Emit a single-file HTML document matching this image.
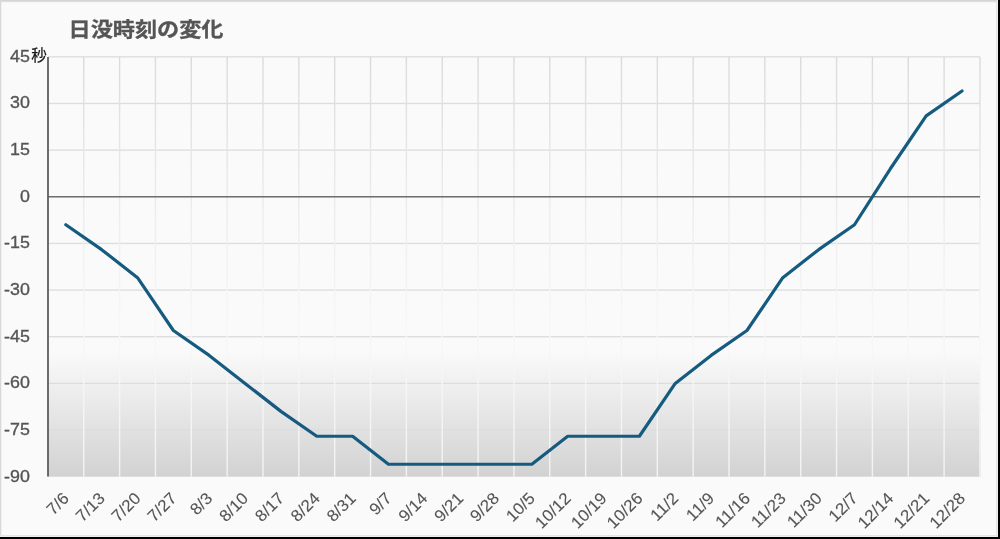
<!DOCTYPE html>
<html lang="ja"><head><meta charset="utf-8"><title>日没時刻の変化</title>
<style>html,body{margin:0;padding:0;background:#fafafa;}body{width:1000px;height:539px;overflow:hidden;position:relative;font-family:"Liberation Sans",sans-serif;}svg{position:absolute;left:0;top:0;display:block;will-change:transform}text{font-family:"Liberation Sans",sans-serif;fill:#555555;stroke:#555555;stroke-width:0.35px}</style></head><body>
<svg width="1000" height="539" viewBox="0 0 1000 539">
<defs>
<linearGradient id="pg" x1="0" y1="56.8" x2="0" y2="476.7" gradientUnits="userSpaceOnUse"><stop offset="0" stop-color="#000" stop-opacity="0"/><stop offset="0.70" stop-color="#000" stop-opacity="0"/><stop offset="1" stop-color="#000" stop-opacity="0.16"/></linearGradient>
<linearGradient id="vg" x1="0" y1="56.8" x2="0" y2="476.7" gradientUnits="userSpaceOnUse"><stop offset="0" stop-color="#dbdbdb"/><stop offset="0.27" stop-color="#e8e8e8"/><stop offset="0.48" stop-color="#f1f1f1"/><stop offset="0.66" stop-color="#f7f7f7"/><stop offset="1" stop-color="#f3f3f3"/></linearGradient>
</defs>
<rect x="0" y="0" width="1000" height="539" fill="#fafafa"/>
<rect x="47.9" y="56.8" width="932.65" height="419.9" fill="url(#pg)"/>
<rect x="47.9" y="56.13" width="932.05" height="1.35" fill="#dddddd"/>
<rect x="47.9" y="102.79" width="932.05" height="1.35" fill="#dddddd"/>
<rect x="47.9" y="149.44" width="932.05" height="1.35" fill="#dddddd"/>
<rect x="47.9" y="242.75" width="932.05" height="1.35" fill="#dddddd"/>
<rect x="47.9" y="289.41" width="932.05" height="1.35" fill="#dddddd"/>
<rect x="47.9" y="336.06" width="932.05" height="1.35" fill="#dddddd"/>
<rect x="47.9" y="382.72" width="932.05" height="1.35" fill="#dddddd"/>
<rect x="47.9" y="429.37" width="932.05" height="1.35" fill="#dddddd"/>
<rect x="83.05" y="56.8" width="1.4" height="419.9" fill="url(#vg)"/>
<rect x="118.9" y="56.8" width="1.4" height="419.9" fill="url(#vg)"/>
<rect x="154.74" y="56.8" width="1.4" height="419.9" fill="url(#vg)"/>
<rect x="190.59" y="56.8" width="1.4" height="419.9" fill="url(#vg)"/>
<rect x="226.44" y="56.8" width="1.4" height="419.9" fill="url(#vg)"/>
<rect x="262.29" y="56.8" width="1.4" height="419.9" fill="url(#vg)"/>
<rect x="298.14" y="56.8" width="1.4" height="419.9" fill="url(#vg)"/>
<rect x="333.98" y="56.8" width="1.4" height="419.9" fill="url(#vg)"/>
<rect x="369.83" y="56.8" width="1.4" height="419.9" fill="url(#vg)"/>
<rect x="405.68" y="56.8" width="1.4" height="419.9" fill="url(#vg)"/>
<rect x="441.53" y="56.8" width="1.4" height="419.9" fill="url(#vg)"/>
<rect x="477.38" y="56.8" width="1.4" height="419.9" fill="url(#vg)"/>
<rect x="513.23" y="56.8" width="1.4" height="419.9" fill="url(#vg)"/>
<rect x="549.07" y="56.8" width="1.4" height="419.9" fill="url(#vg)"/>
<rect x="584.92" y="56.8" width="1.4" height="419.9" fill="url(#vg)"/>
<rect x="620.77" y="56.8" width="1.4" height="419.9" fill="url(#vg)"/>
<rect x="656.62" y="56.8" width="1.4" height="419.9" fill="url(#vg)"/>
<rect x="692.47" y="56.8" width="1.4" height="419.9" fill="url(#vg)"/>
<rect x="728.31" y="56.8" width="1.4" height="419.9" fill="url(#vg)"/>
<rect x="764.16" y="56.8" width="1.4" height="419.9" fill="url(#vg)"/>
<rect x="800.01" y="56.8" width="1.4" height="419.9" fill="url(#vg)"/>
<rect x="835.86" y="56.8" width="1.4" height="419.9" fill="url(#vg)"/>
<rect x="871.71" y="56.8" width="1.4" height="419.9" fill="url(#vg)"/>
<rect x="907.55" y="56.8" width="1.4" height="419.9" fill="url(#vg)"/>
<rect x="943.4" y="56.8" width="1.4" height="419.9" fill="url(#vg)"/>
<rect x="979.25" y="56.8" width="1.4" height="419.9" fill="url(#vg)"/>
<rect x="47.9" y="196.02" width="932.05" height="1.5" fill="#6c6c6c"/>
<rect x="47.12" y="57" width="1.75" height="419.5" fill="#5a5a5a"/>
<polyline points="65.82,224.76 101.67,249.64 137.52,277.64 173.37,330.51 209.22,355.4 245.06,383.39 280.91,411.38 316.76,436.27 352.61,436.27 388.46,464.26 424.3,464.26 460.15,464.26 496,464.26 531.85,464.26 567.7,436.27 603.55,436.27 639.39,436.27 675.24,383.39 711.09,355.4 746.94,330.51 782.79,277.64 818.63,249.64 854.48,224.76 890.33,168.77 926.18,115.9 962.03,91.01" fill="none" stroke="#155b80" stroke-width="3.2" stroke-linecap="round" stroke-linejoin="round"/>
<text transform="translate(29.9 61.8) scale(1.05 1)" font-size="17" text-anchor="end">45</text>
<text transform="translate(29.9 108.46) scale(1.05 1)" font-size="17" text-anchor="end">30</text>
<text transform="translate(29.9 155.11) scale(1.05 1)" font-size="17" text-anchor="end">15</text>
<text transform="translate(29.9 201.77) scale(1.05 1)" font-size="17" text-anchor="end">0</text>
<text transform="translate(29.9 248.42) scale(1.05 1)" font-size="17" text-anchor="end">-15</text>
<text transform="translate(29.9 295.08) scale(1.05 1)" font-size="17" text-anchor="end">-30</text>
<text transform="translate(29.9 341.73) scale(1.05 1)" font-size="17" text-anchor="end">-45</text>
<text transform="translate(29.9 388.39) scale(1.05 1)" font-size="17" text-anchor="end">-60</text>
<text transform="translate(29.9 435.04) scale(1.05 1)" font-size="17" text-anchor="end">-75</text>
<text transform="translate(29.9 481.7) scale(1.05 1)" font-size="17" text-anchor="end">-90</text>
<text transform="translate(65.82 495.2) rotate(-45) scale(1.03 1)" font-size="16.5" text-anchor="end" style="stroke-width:0.1px" y="5.94">7/6</text>
<text transform="translate(101.67 495.2) rotate(-45) scale(1.03 1)" font-size="16.5" text-anchor="end" style="stroke-width:0.1px" y="5.94">7/13</text>
<text transform="translate(137.52 495.2) rotate(-45) scale(1.03 1)" font-size="16.5" text-anchor="end" style="stroke-width:0.1px" y="5.94">7/20</text>
<text transform="translate(173.37 495.2) rotate(-45) scale(1.03 1)" font-size="16.5" text-anchor="end" style="stroke-width:0.1px" y="5.94">7/27</text>
<text transform="translate(209.22 495.2) rotate(-45) scale(1.03 1)" font-size="16.5" text-anchor="end" style="stroke-width:0.1px" y="5.94">8/3</text>
<text transform="translate(245.06 495.2) rotate(-45) scale(1.03 1)" font-size="16.5" text-anchor="end" style="stroke-width:0.1px" y="5.94">8/10</text>
<text transform="translate(280.91 495.2) rotate(-45) scale(1.03 1)" font-size="16.5" text-anchor="end" style="stroke-width:0.1px" y="5.94">8/17</text>
<text transform="translate(316.76 495.2) rotate(-45) scale(1.03 1)" font-size="16.5" text-anchor="end" style="stroke-width:0.1px" y="5.94">8/24</text>
<text transform="translate(352.61 495.2) rotate(-45) scale(1.03 1)" font-size="16.5" text-anchor="end" style="stroke-width:0.1px" y="5.94">8/31</text>
<text transform="translate(388.46 495.2) rotate(-45) scale(1.03 1)" font-size="16.5" text-anchor="end" style="stroke-width:0.1px" y="5.94">9/7</text>
<text transform="translate(424.3 495.2) rotate(-45) scale(1.03 1)" font-size="16.5" text-anchor="end" style="stroke-width:0.1px" y="5.94">9/14</text>
<text transform="translate(460.15 495.2) rotate(-45) scale(1.03 1)" font-size="16.5" text-anchor="end" style="stroke-width:0.1px" y="5.94">9/21</text>
<text transform="translate(496 495.2) rotate(-45) scale(1.03 1)" font-size="16.5" text-anchor="end" style="stroke-width:0.1px" y="5.94">9/28</text>
<text transform="translate(531.85 495.2) rotate(-45) scale(1.03 1)" font-size="16.5" text-anchor="end" style="stroke-width:0.1px" y="5.94">10/5</text>
<text transform="translate(567.7 495.2) rotate(-45) scale(1.03 1)" font-size="16.5" text-anchor="end" style="stroke-width:0.1px" y="5.94">10/12</text>
<text transform="translate(603.55 495.2) rotate(-45) scale(1.03 1)" font-size="16.5" text-anchor="end" style="stroke-width:0.1px" y="5.94">10/19</text>
<text transform="translate(639.39 495.2) rotate(-45) scale(1.03 1)" font-size="16.5" text-anchor="end" style="stroke-width:0.1px" y="5.94">10/26</text>
<text transform="translate(675.24 495.2) rotate(-45) scale(1.03 1)" font-size="16.5" text-anchor="end" style="stroke-width:0.1px" y="5.94">11/2</text>
<text transform="translate(711.09 495.2) rotate(-45) scale(1.03 1)" font-size="16.5" text-anchor="end" style="stroke-width:0.1px" y="5.94">11/9</text>
<text transform="translate(746.94 495.2) rotate(-45) scale(1.03 1)" font-size="16.5" text-anchor="end" style="stroke-width:0.1px" y="5.94">11/16</text>
<text transform="translate(782.79 495.2) rotate(-45) scale(1.03 1)" font-size="16.5" text-anchor="end" style="stroke-width:0.1px" y="5.94">11/23</text>
<text transform="translate(818.63 495.2) rotate(-45) scale(1.03 1)" font-size="16.5" text-anchor="end" style="stroke-width:0.1px" y="5.94">11/30</text>
<text transform="translate(854.48 495.2) rotate(-45) scale(1.03 1)" font-size="16.5" text-anchor="end" style="stroke-width:0.1px" y="5.94">12/7</text>
<text transform="translate(890.33 495.2) rotate(-45) scale(1.03 1)" font-size="16.5" text-anchor="end" style="stroke-width:0.1px" y="5.94">12/14</text>
<text transform="translate(926.18 495.2) rotate(-45) scale(1.03 1)" font-size="16.5" text-anchor="end" style="stroke-width:0.1px" y="5.94">12/21</text>
<text transform="translate(962.03 495.2) rotate(-45) scale(1.03 1)" font-size="16.5" text-anchor="end" style="stroke-width:0.1px" y="5.94">12/28</text>
<text x="68.5" y="37" font-size="20" font-weight="bold" textLength="155" lengthAdjust="spacingAndGlyphs" style='font-family:"Liberation Sans","Noto Sans CJK JP",sans-serif;fill:#555555;stroke:#555555;stroke-width:0.3px'>日没時刻の変化</text>
<text x="31.3" y="61.4" font-size="15.5" style='font-family:"Liberation Sans","Noto Sans CJK JP",sans-serif;fill:#151515;stroke:#151515;stroke-width:0.2px'>秒</text>
<rect x="0" y="0" width="997" height="1" fill="#d5d5d5"/>
<rect x="0" y="1" width="997" height="1" fill="#dedede"/>
<rect x="0" y="2" width="997" height="1" fill="#f5f5f5"/>
<rect x="0" y="0" width="1" height="536" fill="#d8d8d8"/>
<rect x="1" y="2" width="1" height="534" fill="#f0f0f0"/>
<rect x="996" y="2" width="1" height="534" fill="#e6e6e6"/>
<rect x="997" y="0" width="1" height="537" fill="#efefef"/>
<rect x="0" y="535" width="997" height="1" fill="#e5e5e5"/>
<rect x="0" y="536" width="998" height="1" fill="#ededed"/>
<rect x="998" y="0" width="2" height="539" fill="#000"/>
<rect x="0" y="537" width="1000" height="2" fill="#000"/>
</svg></body></html>
